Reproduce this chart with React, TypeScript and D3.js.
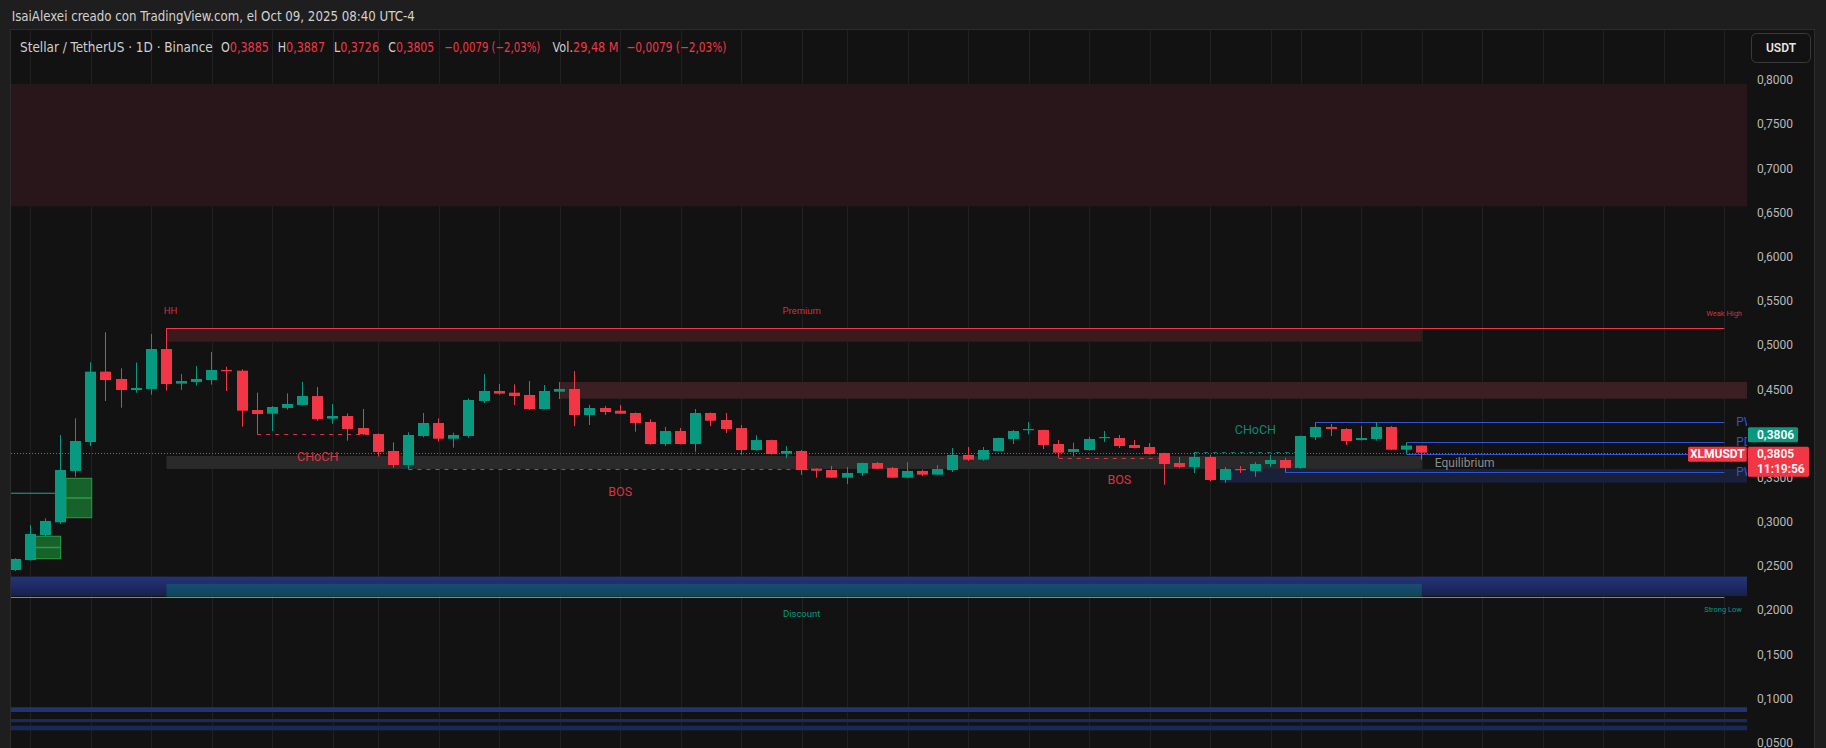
import React from "react";
import * as d3 from "d3";

// ---------- DATA ----------
const symbolTitle = "Stellar / TetherUS · 1D · Binance";
const lastDate = new Date(2025, 9, 9);
const opens = [
  0.2477, 0.259, 0.2873, 0.3017, 0.3598, 0.3926, 0.4722, 0.4639, 0.4514, 0.4526,
  0.4978, 0.4586, 0.4605, 0.4627, 0.4741, 0.4733, 0.4288, 0.4246, 0.4311, 0.4345,
  0.4446, 0.419, 0.422, 0.4084, 0.4016, 0.3824, 0.3665, 0.3994, 0.4141, 0.3963,
  0.3994, 0.439, 0.4503, 0.4484, 0.4458, 0.4299, 0.4495, 0.4526, 0.4231, 0.4311,
  0.428, 0.4254, 0.4152, 0.3903, 0.405, 0.3903, 0.4254, 0.4175, 0.4084, 0.3835,
  0.3948, 0.3794, 0.3824, 0.3624, 0.3609, 0.3522, 0.3575, 0.3688, 0.3632, 0.3522,
  0.3598, 0.3556, 0.3609, 0.3779, 0.3726, 0.3824, 0.396, 0.4062, 0.4062, 0.3903,
  0.3813, 0.3835, 0.3971, 0.3971, 0.3892, 0.3869, 0.3801, 0.3688, 0.3643, 0.3756,
  0.3496, 0.362, 0.3598, 0.3677, 0.3722, 0.3632, 0.3982, 0.4096, 0.4073, 0.3948,
  0.396, 0.4096, 0.3839, 0.3885,
];
const highs = [
  0.261, 0.2986, 0.3062, 0.4005, 0.4194, 0.4827, 0.5167, 0.4759, 0.4824, 0.5148,
  0.5213, 0.4695, 0.4786, 0.4944, 0.4778, 0.4748, 0.4484, 0.4333, 0.4477, 0.4605,
  0.4548, 0.4356, 0.425, 0.4299, 0.4024, 0.3922, 0.4035, 0.4254, 0.4194, 0.4031,
  0.442, 0.4695, 0.4582, 0.4578, 0.4616, 0.4571, 0.4605, 0.4729, 0.4345, 0.4333,
  0.4345, 0.426, 0.4182, 0.4096, 0.4084, 0.4299, 0.426, 0.4254, 0.4118, 0.4001,
  0.3952, 0.388, 0.3835, 0.3628, 0.3654, 0.3643, 0.3692, 0.3699, 0.3643, 0.3699,
  0.3613, 0.3665, 0.3858, 0.3869, 0.3869, 0.3975, 0.4062, 0.4152, 0.4065, 0.3948,
  0.3918, 0.3986, 0.405, 0.4005, 0.3948, 0.3914, 0.3805, 0.3756, 0.3813, 0.3779,
  0.3643, 0.3654, 0.3699, 0.3779, 0.3748, 0.3998, 0.4152, 0.4129, 0.4084, 0.4107,
  0.4152, 0.4107, 0.3922, 0.3887,
];
const lows = [
  0.2466, 0.2583, 0.2862, 0.2998, 0.3533, 0.388, 0.439, 0.4314, 0.4484, 0.4461,
  0.4507, 0.4514, 0.4563, 0.4575, 0.4503, 0.4099, 0.4013, 0.405, 0.4292, 0.4341,
  0.4167, 0.4133, 0.3941, 0.4005, 0.376, 0.3635, 0.3616, 0.3979, 0.393, 0.3862,
  0.3975, 0.4367, 0.4461, 0.4345, 0.4288, 0.4295, 0.4412, 0.4107, 0.4118, 0.4231,
  0.4243, 0.4043, 0.3895, 0.388, 0.3898, 0.3813, 0.4107, 0.4028, 0.3782, 0.3828,
  0.3782, 0.3745, 0.3552, 0.3522, 0.3518, 0.345, 0.3541, 0.3616, 0.3518, 0.3518,
  0.3541, 0.3552, 0.3586, 0.3711, 0.3714, 0.3822, 0.3903, 0.4013, 0.3846, 0.3745,
  0.376, 0.3828, 0.3926, 0.3858, 0.3854, 0.3782, 0.3443, 0.3632, 0.3575, 0.3484,
  0.3462, 0.3575, 0.3533, 0.3643, 0.3579, 0.3624, 0.3948, 0.3994, 0.3892, 0.3941,
  0.3941, 0.3835, 0.3787, 0.3726,
];
const closes = [
  0.2602, 0.2885, 0.3032, 0.3609, 0.3937, 0.4722, 0.4627, 0.4514, 0.4537, 0.4978,
  0.4582, 0.4616, 0.4639, 0.4741, 0.4726, 0.428, 0.4243, 0.4322, 0.4356, 0.4446,
  0.4186, 0.422, 0.4073, 0.4013, 0.3813, 0.3665, 0.4005, 0.4141, 0.3963, 0.4005,
  0.4401, 0.4503, 0.4473, 0.4446, 0.4299, 0.4503, 0.4526, 0.4231, 0.4311, 0.4265,
  0.4246, 0.4141, 0.3903, 0.405, 0.3903, 0.4254, 0.4167, 0.4073, 0.3835, 0.3948,
  0.379, 0.3824, 0.3609, 0.3601, 0.3522, 0.3575, 0.3688, 0.3624, 0.3522, 0.3598,
  0.3556, 0.362, 0.3779, 0.3726, 0.3835, 0.3971, 0.405, 0.4073, 0.3892, 0.3805,
  0.3846, 0.396, 0.3982, 0.388, 0.3858, 0.379, 0.3677, 0.3643, 0.3756, 0.3496,
  0.362, 0.3609, 0.3677, 0.3722, 0.3632, 0.3994, 0.4096, 0.4073, 0.3937, 0.3971,
  0.4096, 0.3839, 0.3885, 0.3805,
];
const priceTicks = [0.8, 0.75, 0.7, 0.65, 0.6, 0.55, 0.5, 0.45, 0.4, 0.35, 0.3, 0.25, 0.2, 0.15, 0.1, 0.05];
const gridDays = [1, 5, 9, 13, 17, 21, 25, 29];

// zones: [fromBar (null = chart left), toBar (null = right edge), top, bottom, fill]
const zones = [
  { from: null, to: null, top: 0.798, bottom: 0.6593, fill: "#29161a" },
  { from: null, to: null, top: 0.2402, bottom: 0.2183, fill: "url(#blueGrad)" },
  { from: 10, to: 93, top: 0.2321, bottom: 0.2169, fill: "rgba(8,153,129,0.30)" },
  { from: 10, to: 93, top: 0.5213, bottom: 0.5061, fill: "#3b1a1e" },
  { from: 36, to: null, top: 0.4605, bottom: 0.4416, fill: "#3b1f23" },
  { from: 10, to: 93, top: 0.3767, bottom: 0.3621, fill: "#2a2a2b" },
  { from: 79.65, to: null, top: 0.3621, bottom: 0.3466, fill: "#18203a" },
  { from: null, to: null, top: 0.0924, bottom: 0.087, fill: "#22346e" },
  { from: null, to: null, top: 0.0791, bottom: 0.0754, fill: "#1a2a5c" },
  { from: null, to: null, top: 0.0715, bottom: 0.0663, fill: "#192858" },
];
const obBoxes = [
  { from: 3.36, to: 5.06, top: 0.3515, bottom: 0.3069 },
  { from: 1.35, to: 3.0, top: 0.2859, bottom: 0.2605 },
];
const structures = [
  { from: 16, to: 24, level: 0.4013, label: "CHoCH", bull: false },
  { from: 26, to: 53, level: 0.3617, label: "BOS", bull: false },
  { from: 69, to: 76, level: 0.3745, label: "BOS", bull: false },
  { from: 78, to: 85, level: 0.3813, label: "CHoCH", bull: true },
];
const levels = [
  { from: 10, level: 0.5213, color: "#f23645", name: "" },
  { from: -1, level: 0.2169, color: "#22b3a4", name: "" },
  { from: 86, level: 0.4149, color: "#2f54d6", name: "PWH" },
  { from: 92, level: 0.3922, color: "#2f54d6", name: "PDH" },
  { from: 92, level: 0.3787, color: "#2f54d6", name: "PDL" },
  { from: 84, level: 0.3583, color: "#2f54d6", name: "PWL" },
];
const ohlcHeader = [
  { k: "O", v: "0,3885" },
  { k: "H", v: "0,3887" },
  { k: "L", v: "0,3726" },
  { k: "C", v: "0,3805" },
];
const changeText = "−0,0079 (−2,03%)";
const volText = "29,48 M";
const countdown = "11:19:56";
const lastPriceBid = 0.3806;

// ---------- LAYOUT ----------
const W = 1826;
const H = 748;
const PL = 11;
const PR = 1747;
const UP = "#089981";
const DOWN = "#f23645";
const FONT = "'Liberation Sans Narrow', 'DejaVu Sans Condensed', Roboto, 'Noto Sans', sans-serif";
const AXFONT = "Roboto, 'Noto Sans', sans-serif";

const fmt = (v: number) => v.toFixed(4).replace(".", ",");

export default function App() {
  const n = closes.length;
  const x = d3.scaleLinear().domain([0, n - 1]).range([15.2, 1421.8]);
  const y = d3.scaleLinear().domain([0.05, 0.8]).range([744.7, 82.0]);
  const lastClose = closes[n - 1];
  const yLast = y(lastClose);
  const lineEnd = x(113);

  const firstDate = d3.timeDay.offset(lastDate, -(n - 1));
  const maxBar = Math.ceil(x.invert(PR));
  const gridBars = d3.range(0, maxBar + 1).filter((i) => gridDays.includes(d3.timeDay.offset(firstDate, i).getDate()));

  const zx = (v: number | null, left: boolean) => (v === null ? (left ? PL : PR) : x(v));

  return (
    <svg width={W} height={H} style={{ position: "fixed", left: 0, top: 0, background: "#1e1e1e" }}>
      <defs>
        <clipPath id="plot">
          <rect x={PL} y={30} width={PR - PL} height={H - 30} />
        </clipPath>
        <linearGradient id="blueGrad" x1="0" y1="0" x2="0" y2="1">
          <stop offset="0" stopColor="#24347a" />
          <stop offset="1" stopColor="#17204c" />
        </linearGradient>
      </defs>
      <rect x={0} y={0} width={W} height={H} fill="#1e1e1e" />
      <text x={11.7} y={20.5} fill="#d2d2d2" fontSize={13.5} fontFamily={FONT} textLength={403} lengthAdjust="spacingAndGlyphs">
        IsaiAlexei creado con TradingView.com, el Oct 09, 2025 08:40 UTC-4
      </text>
      <rect x={10.5} y={29.5} width={1804} height={H} fill="#121212" stroke="#2c2c2c" />

      <g clipPath="url(#plot)">
        {gridBars.map((i) => (
          <line key={"g" + i} x1={Math.round(x(i)) + 0.5} x2={Math.round(x(i)) + 0.5} y1={30} y2={H} stroke="#202020" />
        ))}
        {zones.map((z, k) => (
          <rect key={"z" + k} x={zx(z.from, true)} y={y(z.top)} width={zx(z.to, false) - zx(z.from, true)} height={y(z.bottom) - y(z.top)} fill={z.fill} />
        ))}
        {obBoxes.map((b, k) => (
          <g key={"ob" + k}>
            <rect x={x(b.from)} y={y(b.top)} width={x(b.to) - x(b.from)} height={y(b.bottom) - y(b.top)} fill="#17612b" stroke="#2b9c43" strokeWidth={1} />
            <line x1={x(b.from)} x2={x(b.to)} y1={y((b.top + b.bottom) / 2)} y2={y((b.top + b.bottom) / 2)} stroke="#2b9c43" strokeWidth={1.5} />
          </g>
        ))}
        <line x1={PL} x2={x(3) - 5} y1={y(0.3346)} y2={y(0.3346)} stroke="#1fa58f" strokeWidth={1} />
        {levels.map((l, k) => (
          <g key={"l" + k}>
            <line x1={x(l.from)} x2={lineEnd} y1={Math.round(y(l.level)) + 0.5} y2={Math.round(y(l.level)) + 0.5} stroke={l.color} strokeWidth={1} />
            {l.name && (
              <text x={lineEnd + 12} y={y(l.level) + 4} fill="#2f54d6" fontSize={12} fontFamily={AXFONT}>
                {l.name}
              </text>
            )}
          </g>
        ))}
        {structures.map((s, k) => {
          const c = s.bull ? UP : DOWN;
          const mid = Math.round((s.from + s.to) / 2);
          const ly = y(s.level);
          return (
            <g key={"s" + k}>
              <line x1={x(s.from)} x2={x(s.to)} y1={Math.round(ly) + 0.5} y2={Math.round(ly) + 0.5} stroke={c} strokeDasharray="4 5" strokeOpacity={s.bull ? 0.75 : 0.9} />
              <text x={x(mid)} y={s.bull ? ly - 22 : ly + 22} dy="0.35em" textAnchor="middle" fill={c} fillOpacity={0.9} fontSize={12.5} fontFamily={AXFONT}>
                {s.label}
              </text>
            </g>
          );
        })}
        {closes.map((c, i) => {
          const o = opens[i];
          const col = c >= o ? UP : DOWN;
          const cx = Math.floor(x(i));
          const top = y(Math.max(o, c));
          const bot = y(Math.min(o, c));
          return (
            <g key={"c" + i}>
              <line x1={cx + 0.5} x2={cx + 0.5} y1={y(highs[i])} y2={y(lows[i])} stroke={col} strokeWidth={1} />
              <rect x={cx - 5} y={top} width={11} height={Math.max(1.2, bot - top)} fill={col} />
            </g>
          );
        })}
        <line x1={PL} x2={1688} y1={Math.round(yLast) + 0.5} y2={Math.round(yLast) + 0.5} stroke={DOWN} strokeDasharray="1 2" strokeWidth={1} />
        <text x={x(10) + 4} y={y(0.5213) - 18} dy="0.35em" textAnchor="middle" fill={DOWN} fillOpacity={0.85} fontSize={9.5} fontFamily={AXFONT}>HH</text>
        <text x={x(52)} y={y(0.5213) - 18} dy="0.35em" textAnchor="middle" fill={DOWN} fillOpacity={0.85} fontSize={9.5} fontFamily={AXFONT}>Premium</text>
        <text x={x(52)} y={y(0.2169) + 16} dy="0.35em" textAnchor="middle" fill={UP} fontSize={9.5} fontFamily={AXFONT}>Discount</text>
        <text x={1742} y={y(0.5213) - 15} dy="0.35em" textAnchor="end" fill={DOWN} fillOpacity={0.85} fontSize={7.5} fontFamily={AXFONT}>Weak High</text>
        <text x={1742} y={y(0.2169) + 12} dy="0.35em" textAnchor="end" fill={UP} fontSize={7.5} fontFamily={AXFONT}>Strong Low</text>
        <text x={x(93) + 13} y={y((0.3767 + 0.3621) / 2)} dy="0.35em" fill="#8c8c8c" fontSize={12} fontFamily={AXFONT}>Equilibrium</text>
      </g>

      {/* legend */}
      <g fontFamily={FONT} fontSize={13.5}>
        <text x={20} y={51.5} fill="#cfcfcf" textLength={192.7} lengthAdjust="spacingAndGlyphs">{symbolTitle}</text>
        {ohlcHeader.map((h, k) => (
          <text key={h.k} x={[221, 277.7, 334, 388.3][k]} y={51.5} fill="#cfcfcf" textLength={[48, 47.3, 45, 46][k]} lengthAdjust="spacingAndGlyphs">
            {h.k}
            <tspan fill={DOWN}>{h.v}</tspan>
          </text>
        ))}
        <text x={444.3} y={51.5} fill={DOWN} textLength={96} lengthAdjust="spacingAndGlyphs">{changeText}</text>
        <text x={552.6} y={51.5} fill="#cfcfcf" textLength={66} lengthAdjust="spacingAndGlyphs">
          Vol.<tspan fill={DOWN}>{volText}</tspan>
        </text>
        <text x={626.5} y={51.5} fill={DOWN} textLength={100} lengthAdjust="spacingAndGlyphs">{changeText}</text>
      </g>

      {/* price axis */}
      <g fontFamily={AXFONT} fontSize={12}>
        {priceTicks.map((t) => (
          <text key={"t" + t} x={1757} y={y(t) + 2.3} fill="#b9b9b9">
            {fmt(t)}
          </text>
        ))}
      </g>
      <rect x={1751.5} y={33.5} width={59} height={29} rx={5} fill="#121212" stroke="#3a3a3a" />
      <text x={1781} y={52} textAnchor="middle" fill="#e6e6e6" fontSize={12} fontWeight={600} fontFamily={AXFONT}>USDT</text>

      <rect x={1748} y={yLast - 25.4} width={50} height={15} rx={1.5} fill={UP} />
      <text x={1757} y={yLast - 13.6} fill="#ffffff" fontSize={12} fontWeight={600} fontFamily={AXFONT}>{fmt(lastPriceBid)}</text>
      <rect x={1748} y={yLast - 6} width={61} height={30} rx={1.5} fill={DOWN} />
      <text x={1757} y={yLast + 5.8} fill="#ffffff" fontSize={12} fontWeight={600} fontFamily={AXFONT}>{fmt(lastClose)}</text>
      <text x={1757} y={yLast + 20.3} fill="#ffffff" fontSize={12} fontWeight={600} fontFamily={AXFONT}>{countdown}</text>
      <rect x={1688} y={yLast - 6} width={58.7} height={15} rx={1.5} fill={DOWN} />
      <text x={1717.3} y={yLast + 5.8} textAnchor="middle" fill="#ffffff" fontSize={12} fontWeight={700} fontFamily={AXFONT}>XLMUSDT</text>
    </svg>
  );
}
